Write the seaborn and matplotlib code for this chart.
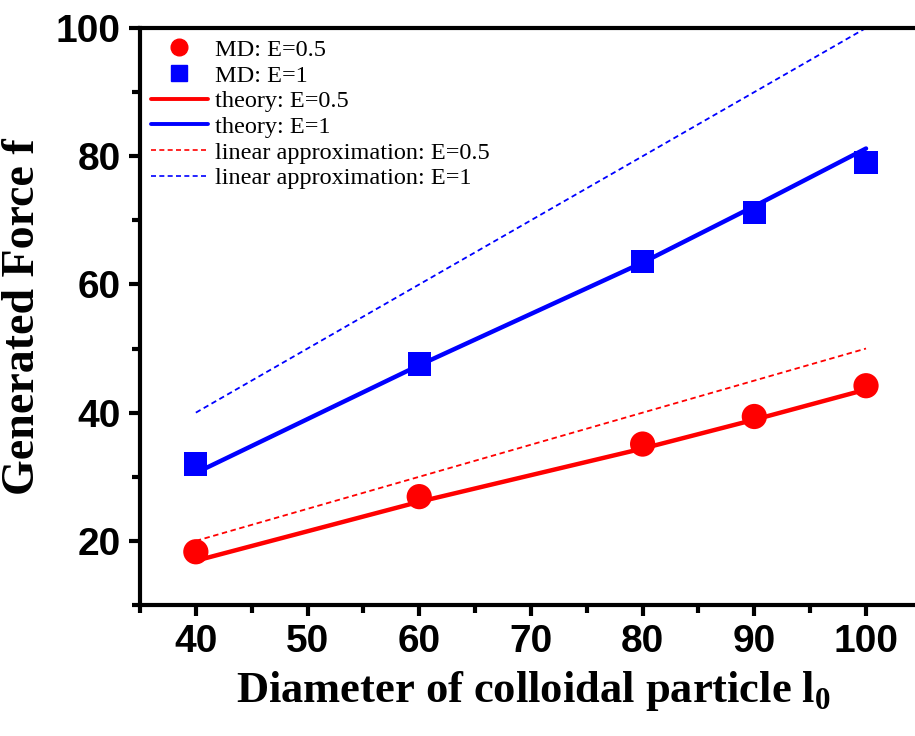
import matplotlib
matplotlib.use("Agg")
import matplotlib.pyplot as plt
import seaborn as sns
import pandas as pd
from matplotlib.ticker import MultipleLocator
from matplotlib.lines import Line2D

# ---- data ----
diameters = [40, 60, 80, 90, 100]
md_e05 = [18.3, 26.9, 35.1, 39.4, 44.2]
md_e1 = [32.0, 47.6, 63.6, 71.2, 79.0]
theory_e05 = [16.9, 26.1, 34.4, 38.9, 43.6]
theory_e1 = [30.6, 47.4, 63.4, 72.2, 81.2]
lin_x = [40, 100]
lin_e05 = [20, 50]
lin_e1 = [40, 100]

sns.set_theme(style="white")
plt.rcParams['font.family'] = ['Liberation Sans', 'DejaVu Sans']
plt.rcParams['text.color'] = 'black'
plt.rcParams['axes.labelcolor'] = 'black'
plt.rcParams['xtick.color'] = 'black'
plt.rcParams['ytick.color'] = 'black'
plt.rcParams['mathtext.fontset'] = 'custom'
plt.rcParams['mathtext.rm'] = 'Liberation Serif'
plt.rcParams['mathtext.bf'] = 'Liberation Serif:bold'

fig = plt.figure(figsize=(9.15, 7.36), dpi=100)
ax = fig.add_axes([0.153, 0.178, 0.86, 0.784])

df_md = pd.DataFrame({"x": diameters * 2,
                      "y": md_e05 + md_e1,
                      "s": ["MD: E=0.5"] * 5 + ["MD: E=1"] * 5})
df_th = pd.DataFrame({"x": diameters * 2,
                      "y": theory_e05 + theory_e1,
                      "s": ["theory: E=0.5"] * 5 + ["theory: E=1"] * 5})
df_lin = pd.DataFrame({"x": lin_x * 2,
                       "y": lin_e05 + lin_e1,
                       "s": ["linear approximation: E=0.5"] * 2 + ["linear approximation: E=1"] * 2})

red = "#ff0000"
blue = "#0000ff"

sns.lineplot(data=df_lin, x="x", y="y", hue="s", palette=[red, blue], ax=ax,
             linestyle=(0, (3, 2)), linewidth=1.3, legend=False, zorder=2)
sns.lineplot(data=df_th, x="x", y="y", hue="s", palette=[red, blue], ax=ax,
             linewidth=3.2, legend=False, zorder=3)
sns.scatterplot(data=df_md[df_md.s == "MD: E=0.5"], x="x", y="y", color=red,
                marker="o", s=330, edgecolor="none", ax=ax, zorder=4, legend=False)
sns.scatterplot(data=df_md[df_md.s == "MD: E=1"], x="x", y="y", color=blue,
                marker="s", s=280, edgecolor="none", ax=ax, zorder=4, legend=False)

handles = [
    Line2D([], [], color=red, marker="o", linestyle="none", markersize=12),
    Line2D([], [], color=blue, marker="s", linestyle="none", markersize=11),
    Line2D([], [], color=red, linewidth=2.8),
    Line2D([], [], color=blue, linewidth=2.8),
    Line2D([], [], color=red, linewidth=1.2, linestyle=(0, (3, 2))),
    Line2D([], [], color=blue, linewidth=1.2, linestyle=(0, (3, 2))),
]
labels = ["MD: E=0.5", "MD: E=1", "theory: E=0.5", "theory: E=1",
          "linear approximation: E=0.5", "linear approximation: E=1"]
ax.legend(handles, labels, loc="upper left", bbox_to_anchor=(0.0, 1.0),
          frameon=False, prop={"family": "Liberation Serif", "size": 17.5},
          handlelength=2.35, handletextpad=0.3, labelspacing=0.15,
          borderaxespad=0.25, borderpad=0.2)

ax.set_xlim(35, 105.45)
ax.set_ylim(10, 100)
ax.xaxis.set_major_locator(MultipleLocator(10))
ax.xaxis.set_minor_locator(MultipleLocator(5))
ax.yaxis.set_major_locator(MultipleLocator(20))
ax.yaxis.set_minor_locator(MultipleLocator(10))
ax.set_xticks([40, 50, 60, 70, 80, 90, 100])
ax.tick_params(axis="both", which="major", direction="out", length=8, width=3,
               labelsize=28, pad=6, bottom=True, left=True)
ax.tick_params(axis="both", which="minor", direction="out", length=6, width=3,
               bottom=True, left=True)
for lab in ax.get_xticklabels() + ax.get_yticklabels():
    lab.set_fontweight("bold")

for side in ["left", "bottom", "top"]:
    ax.spines[side].set_visible(True)
    ax.spines[side].set_linewidth(3)
    ax.spines[side].set_color("black")
ax.spines["right"].set_visible(False)

ax.set_xlabel("Diameter of colloidal particle l$_\\mathbf{0}$", fontsize=32,
              fontweight="bold", family="Liberation Serif", labelpad=6)
ax.set_ylabel("Generated Force f", fontsize=33, fontweight="bold",
              family="Liberation Serif", labelpad=8)

fig.savefig("out.png", dpi=100)
